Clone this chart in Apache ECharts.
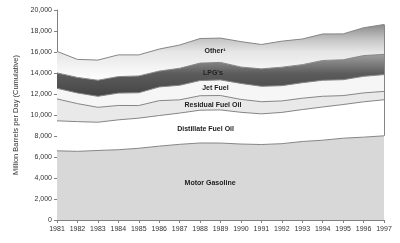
<!DOCTYPE html>
<html><head><meta charset="utf-8">
<script src="https://cdn.jsdelivr.net/npm/echarts@6/dist/echarts.min.js"></script>
<style>html,body{margin:0;padding:0;background:#fff}#c{width:400px;height:243px}</style>
</head><body><div id="c"></div>
<script>
const years = ['1981','1982','1983','1984','1985','1986','1987','1988','1989','1990','1991','1992','1993','1994','1995','1996','1997'];
const motorGasoline = [6588,6539,6622,6693,6831,7034,7206,7336,7328,7235,7188,7268,7476,7601,7789,7891,8017];
const distillate = [2858,2829,2690,2845,2868,2914,2976,3122,3157,3021,2921,2979,3041,3162,3207,3365,3435];
const residual = [2088,1716,1421,1369,1202,1418,1264,1378,1370,1229,1156,1091,1080,1021,852,848,797];
const jetFuel = [1007,1013,1046,1178,1218,1307,1385,1446,1489,1522,1470,1454,1476,1527,1514,1578,1599];
const lpg = [1469,1481,1531,1573,1599,1509,1617,1660,1665,1559,1660,1760,1721,1880,1899,1977,1928];
const other = [2048,1718,1921,2068,2008,2099,2217,2341,2316,2422,2319,2481,2443,2527,2464,2650,2844];
const seriesNames = ['Motor Gasoline','Distillate Fuel Oil','Residual Fuel Oil','Jet Fuel',"LPG's",'Other\u00b9'];
// label anchors (fractional category index, cumulative value)
const labelIdx = [7.49,7.27,7.63,7.75,7.63,7.73];
const labelValues = [3520,8640,10950,12600,13970,16120];

const chart = echarts.init(document.getElementById('c'));
const all = [motorGasoline,distillate,residual,jetFuel,lpg,other];
const flatFills = ['#d8d8d8','#ffffff','#e9e9e9','#f6f6f6','#666666','#dddddd'];
const series = all.map((arr,i)=>({
  name: seriesNames[i], type:'line', stack:'total', symbol:'none', smooth:false,
  data: arr,
  lineStyle:{color: '#858585', width:1},
  areaStyle:{color:flatFills[i], opacity:1},
  z: 2
}));
const totalLast = all.reduce((s,a)=>s+a[a.length-1],0);
series[5].markLine = {
  silent:true, symbol:'none', label:{show:false},
  lineStyle:{color:'#858585',width:1,type:'solid'},
  data:[[{coord:[years[16],motorGasoline[16]]},{coord:[years[16],totalLast]}]]
};
chart.setOption({
  animation:false,
  grid:{left:57,right:16,top:10,bottom:23},
  xAxis:{type:'category',data:years,boundaryGap:false,
    axisLine:{lineStyle:{color:'#808080'}},
    axisTick:{show:true,length:3,lineStyle:{color:'#808080'}},
    splitLine:{show:false},
    axisLabel:{fontSize:7,color:'#333',fontFamily:'Liberation Sans',margin:6,interval:0}},
  yAxis:{type:'value',min:0,max:20000,interval:2000,
    name:'Million Barrels per Day (Cumulative)',nameLocation:'middle',nameGap:30,
    nameTextStyle:{fontSize:7.5,color:'#333',fontFamily:'Liberation Sans'},
    axisLine:{show:true,lineStyle:{color:'#808080'}},
    axisTick:{show:true,length:3,lineStyle:{color:'#808080'}},
    splitLine:{show:false},
    axisLabel:{fontSize:7,color:'#333',fontFamily:'Liberation Sans',margin:5,
      formatter:v=>v.toLocaleString('en-US')}},
  series: series
});
// global vertical gradients anchored to value levels
const py = v => chart.convertToPixel({yAxisIndex:0}, v);
const lpgGrad = {type:'linear',global:true,x:0,y:py(15800),x2:0,y2:py(11700),
  colorStops:[{offset:0,color:'#a0a0a0'},{offset:0.45,color:'#5c5c5c'},{offset:1,color:'#444444'}]};
const otherGrad = {type:'linear',global:true,x:0,y:py(18700),x2:0,y2:py(13300),
  colorStops:[{offset:0,color:'#888888'},{offset:0.3,color:'#c8c8c8'},{offset:0.5,color:'#e6e6e6'},{offset:1,color:'#ffffff'}]};
const graphics = seriesNames.map((n,i)=>{
  const i0 = Math.floor(labelIdx[i]), f = labelIdx[i]-i0;
  const p0 = chart.convertToPixel({gridIndex:0},[i0,labelValues[i]]);
  const p1 = chart.convertToPixel({gridIndex:0},[i0+1,labelValues[i]]);
  return {type:'text',x:p0[0]+(p1[0]-p0[0])*f,y:p0[1],z:100,
    style:{text:n,fontSize:7,fontWeight:'bold',fill:'#222',fontFamily:'Liberation Sans',
      align:'center',verticalAlign:'middle'}};
});
chart.setOption({
  series:[{},{},{},{},{areaStyle:{color:lpgGrad}},{areaStyle:{color:otherGrad}}],
  graphic:graphics
});
</script></body></html>
